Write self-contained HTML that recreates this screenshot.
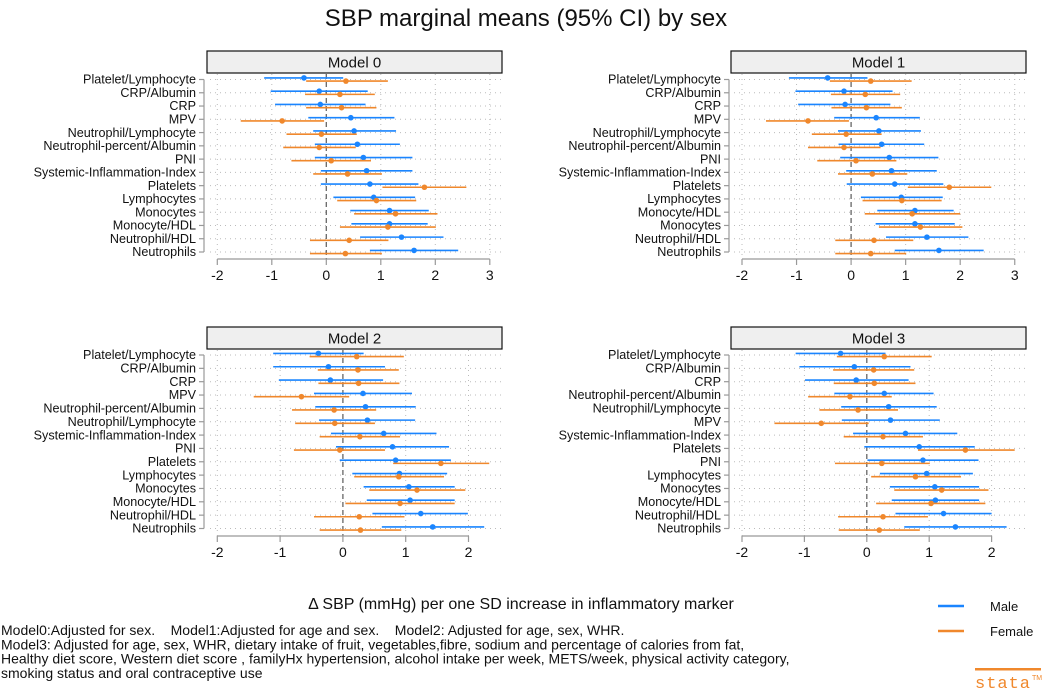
<!DOCTYPE html>
<html><head><meta charset="utf-8">
<style>
html,body{margin:0;padding:0;background:#fff;}
svg{display:block;font-family:"Liberation Sans",sans-serif;}
</style></head>
<body>
<svg id="chart" width="1052" height="694" viewBox="0 0 1052 694" xmlns="http://www.w3.org/2000/svg">
<text x="526" y="26" font-size="24" text-anchor="middle" fill="#111">SBP marginal means (95% CI) by sex</text>
<g id="panels"></g>
<text x="521" y="609" font-size="16" text-anchor="middle" fill="#111">Δ SBP (mmHg) per one SD increase in inflammatory marker</text>
<g>
<line x1="938" y1="606" x2="964" y2="606" stroke="#1a85ff" stroke-width="2.5"/>
<text x="990" y="611" font-size="13" fill="#111">Male</text>
<line x1="938" y1="631" x2="964" y2="631" stroke="#f0882c" stroke-width="2.5"/>
<text x="990" y="636" font-size="13" fill="#111">Female</text>
</g>
<g font-size="14" fill="#111">
<text x="1" y="635">Model0:Adjusted for sex.&#160;&#160;&#160;&#160;Model1:Adjusted for age and sex.&#160;&#160;&#160;&#160;Model2: Adjusted for age, sex, WHR.</text>
<text x="1" y="649.3">Model3: Adjusted for age, sex, WHR, dietary intake of fruit, vegetables,fibre, sodium and percentage of calories from fat,</text>
<text x="1" y="663.6">Healthy diet score, Western diet score , familyHx hypertension, alcohol intake per week, METS/week, physical activity category,</text>
<text x="1" y="678">smoking status and oral contraceptive use</text>
</g>
<g>
<rect x="975" y="668" width="66" height="2.5" fill="#f0882c"/>
<text x="975" y="688" font-size="17" fill="#f0882c" font-family="Liberation Mono,monospace" letter-spacing="1">stata</text>
<text x="1032" y="680" font-size="7" fill="#f0882c">TM</text>
</g>
</svg>
<script>
const labels0 = ["Platelet/Lymphocyte","CRP/Albumin","CRP","MPV","Neutrophil/Lymphocyte","Neutrophil-percent/Albumin","PNI","Systemic-Inflammation-Index","Platelets","Lymphocytes","Monocytes","Monocyte/HDL","Neutrophil/HDL","Neutrophils"];
const labels1 = ["Platelet/Lymphocyte","CRP/Albumin","CRP","MPV","Neutrophil/Lymphocyte","Neutrophil-percent/Albumin","PNI","Systemic-Inflammation-Index","Platelets","Lymphocytes","Monocyte/HDL","Monocytes","Neutrophil/HDL","Neutrophils"];
const labels2 = ["Platelet/Lymphocyte","CRP/Albumin","CRP","MPV","Neutrophil-percent/Albumin","Neutrophil/Lymphocyte","Systemic-Inflammation-Index","PNI","Platelets","Lymphocytes","Monocytes","Monocyte/HDL","Neutrophil/HDL","Neutrophils"];
const labels3 = ["Platelet/Lymphocyte","CRP/Albumin","CRP","Neutrophil-percent/Albumin","Neutrophil/Lymphocyte","MPV","Systemic-Inflammation-Index","Platelets","PNI","Lymphocytes","Monocytes","Monocyte/HDL","Neutrophil/HDL","Neutrophils"];

const male0 = [-0.41,-0.13,-0.11,0.45,0.51,0.57,0.68,0.74,0.80,0.87,1.16,1.16,1.38,1.61];
const maleLo0 = [-1.14,-1.02,-0.94,-0.33,-0.24,-0.21,-0.21,-0.10,-0.10,0.13,0.44,0.46,0.62,0.80];
const maleHi0 = [0.31,0.76,0.72,1.25,1.28,1.35,1.58,1.58,1.69,1.63,1.88,1.86,2.15,2.42];
const female0 = [0.36,0.25,0.28,-0.81,-0.09,-0.13,0.09,0.39,1.80,0.92,1.27,1.13,0.42,0.35];
const femaleLo0 = [-0.37,-0.39,-0.37,-1.57,-0.73,-0.79,-0.64,-0.24,1.03,0.20,0.51,0.25,-0.30,-0.30];
const femaleHi0 = [1.13,0.89,0.92,-0.04,0.56,0.54,0.82,1.02,2.57,1.65,2.04,2.01,1.14,1.02];

const male1 = [-0.43,-0.13,-0.11,0.46,0.51,0.56,0.70,0.74,0.80,0.92,1.17,1.17,1.39,1.61];
const maleLo1 = [-1.14,-1.02,-0.97,-0.31,-0.24,-0.23,-0.20,-0.09,-0.08,0.18,0.48,0.45,0.64,0.80];
const maleHi1 = [0.30,0.76,0.72,1.26,1.28,1.34,1.60,1.57,1.69,1.68,1.88,1.90,2.15,2.43];
const female1 = [0.36,0.26,0.28,-0.79,-0.09,-0.13,0.09,0.39,1.80,0.93,1.12,1.27,0.42,0.36];
const femaleLo1 = [-0.39,-0.37,-0.36,-1.56,-0.72,-0.79,-0.62,-0.24,1.04,0.21,0.25,0.51,-0.29,-0.29];
const femaleHi1 = [1.11,0.90,0.93,-0.04,0.56,0.54,0.83,1.03,2.57,1.66,2.00,2.04,1.14,1.01];

const male2 = [-0.39,-0.23,-0.20,0.32,0.36,0.39,0.65,0.79,0.84,0.90,1.05,1.07,1.24,1.43];
const maleLo2 = [-1.11,-1.11,-1.02,-0.46,-0.44,-0.38,-0.19,-0.11,-0.05,0.15,0.33,0.38,0.47,0.62];
const maleHi2 = [0.33,0.67,0.64,1.10,1.16,1.15,1.49,1.69,1.72,1.66,1.78,1.78,1.99,2.25];
const female2 = [0.22,0.24,0.25,-0.66,-0.14,-0.13,0.27,-0.05,1.56,0.89,1.18,0.91,0.26,0.28];
const femaleLo2 = [-0.53,-0.40,-0.39,-1.42,-0.81,-0.76,-0.37,-0.78,0.80,0.18,0.42,0.04,-0.46,-0.37];
const femaleHi2 = [0.97,0.89,0.90,0.10,0.53,0.51,0.91,0.67,2.33,1.61,1.95,1.78,0.98,0.93];

const male3 = [-0.42,-0.20,-0.17,0.28,0.35,0.38,0.62,0.84,0.90,0.96,1.09,1.10,1.23,1.42];
const maleLo3 = [-1.14,-1.08,-0.99,-0.52,-0.41,-0.40,-0.22,-0.04,0.01,0.21,0.37,0.40,0.46,0.60];
const maleHi3 = [0.30,0.70,0.67,1.07,1.12,1.17,1.45,1.73,1.79,1.70,1.80,1.80,2.00,2.24];
const female3 = [0.28,0.11,0.12,-0.27,-0.14,-0.73,0.26,1.58,0.24,0.78,1.20,1.03,0.26,0.20];
const femaleLo3 = [-0.48,-0.54,-0.53,-0.94,-0.76,-1.48,-0.37,0.82,-0.51,0.07,0.44,0.15,-0.46,-0.45];
const femaleHi3 = [1.04,0.76,0.78,0.40,0.50,0.03,0.90,2.37,1.01,1.51,1.95,1.90,0.98,0.85];

const ticksTop = [-2,-1,0,1,2,3];
const ticksBottom = [-2,-1,0,1,2];
const titles = ["Model 0","Model 1","Model 2","Model 3"];

const NS = "http://www.w3.org/2000/svg";
const root = document.getElementById("panels");
function mk(tag, attrs, parent){
  const e = document.createElementNS(NS, tag);
  for (const k in attrs) e.setAttribute(k, attrs[k]);
  (parent||root).appendChild(e);
  return e;
}
const BLUE = "#1a85ff", ORANGE = "#f0882c";

function drawPanel(idx, labels, m, mLo, mHi, f, fLo, fHi, ticks, geo){
  const g = mk("g", {});
  
  
  const xs = v => geo.x0 + (v - (-2)) * geo.unit;
  const n = labels.length;
  const ys = i => geo.rowTop + i * (geo.rowBot - geo.rowTop) / (n - 1);
  const hb = mk("rect", {x: geo.plotL, y: geo.headTop, width: geo.plotR - geo.plotL, height: 22, fill: "#efefef", stroke: "#111", "stroke-width": 1.2}, g);
  
  
  const ht = mk("text", {x: (geo.plotL + geo.plotR) / 2, y: geo.headTop + 16.5, "font-size": 15, "text-anchor": "middle", fill: "#111"}, g);
  ht.textContent = titles[idx];
  
  
  for (let i = 0; i < n; i++) {
    const gl = mk("line", {x1: geo.plotL + 3, x2: geo.plotR, y1: ys(i), y2: ys(i), stroke: "#bbb", "stroke-width": 1, "stroke-dasharray": "1 4"}, g);
    
    
  }
  ticks.forEach(t => {
    if (t === 0) return;
    const vl = mk("line", {x1: xs(t), x2: xs(t), y1: geo.headTop + 23, y2: geo.axisY, stroke: "#bbb", "stroke-width": 1, "stroke-dasharray": "1 4"}, g);
    
    
  });
  const zl = mk("line", {x1: xs(0), x2: xs(0), y1: geo.headTop + 23, y2: geo.axisY, stroke: "#666", "stroke-width": 1.3, "stroke-dasharray": "5 3"}, g);
  
  
  const ya = mk("line", {x1: geo.yAxisX, x2: geo.yAxisX, y1: ys(0), y2: ys(n - 1), stroke: "#999", "stroke-width": 1.2}, g);
  
  
  for (let i = 0; i < n; i++) {
    const tk = mk("line", {x1: geo.yAxisX - 5, x2: geo.yAxisX, y1: ys(i), y2: ys(i), stroke: "#999", "stroke-width": 1.2}, g);
    
    
    const lt = mk("text", {x: geo.yAxisX - 8, y: ys(i) + 4.2, "font-size": 12.6, "text-anchor": "end", fill: "#111"}, g);
    lt.textContent = labels[i];
    
    
  }
  const xa = mk("line", {x1: xs(ticks[0]), x2: xs(ticks[ticks.length - 1]), y1: geo.axisY, y2: geo.axisY, stroke: "#999", "stroke-width": 1.2}, g);
  
  
  ticks.forEach(t => {
    const tk = mk("line", {x1: xs(t), x2: xs(t), y1: geo.axisY, y2: geo.axisY + 6, stroke: "#999", "stroke-width": 1.2}, g);
    
    
    const tl = mk("text", {x: xs(t), y: geo.axisY + 21, "font-size": 14, "text-anchor": "middle", fill: "#111"}, g);
    tl.textContent = t;
    
    
  });
  for (let i = 0; i < n; i++) {
    const ym = ys(i) - 1.6, yf = ys(i) + 1.6;
    const ml = mk("line", {x1: xs(mLo[i]), x2: xs(mHi[i]), y1: ym, y2: ym, stroke: BLUE, "stroke-width": 1.6}, g);
    
    
    const mp = mk("circle", {cx: xs(m[i]), cy: ym, r: 2.8, fill: BLUE}, g);
    
    
    const fl = mk("line", {x1: xs(fLo[i]), x2: xs(fHi[i]), y1: yf, y2: yf, stroke: ORANGE, "stroke-width": 1.6}, g);
    
    
    const fp = mk("circle", {cx: xs(f[i]), cy: yf, r: 2.8, fill: ORANGE}, g);
    
    
  }
}

drawPanel(0, labels0, male0, maleLo0, maleHi0, female0, femaleLo0, femaleHi0, ticksTop,
  {x0: 217.3, unit: 54.5, plotL: 207, plotR: 502, headTop: 51, rowTop: 79.5, rowBot: 252, axisY: 259, yAxisX: 204});
drawPanel(1, labels1, male1, maleLo1, maleHi1, female1, femaleLo1, femaleHi1, ticksTop,
  {x0: 742, unit: 54.55, plotL: 731, plotR: 1026, headTop: 51, rowTop: 79.5, rowBot: 252, axisY: 259, yAxisX: 729});
drawPanel(2, labels2, male2, maleLo2, maleHi2, female2, femaleLo2, femaleHi2, ticksBottom,
  {x0: 217.3, unit: 62.8, plotL: 207, plotR: 502, headTop: 327, rowTop: 355, rowBot: 528.5, axisY: 536, yAxisX: 204});
drawPanel(3, labels3, male3, maleLo3, maleHi3, female3, femaleLo3, femaleHi3, ticksBottom,
  {x0: 742, unit: 62.4, plotL: 731, plotR: 1026, headTop: 327, rowTop: 355, rowBot: 528.5, axisY: 536, yAxisX: 729});
</script>
</body></html>
